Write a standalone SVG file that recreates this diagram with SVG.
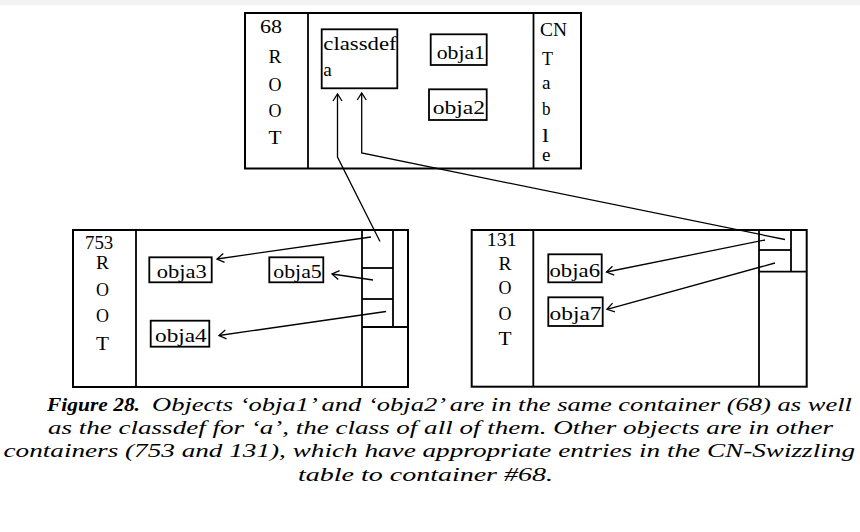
<svg xmlns="http://www.w3.org/2000/svg" width="860" height="532" viewBox="0 0 860 532">
  <style>
    .frame { fill: none; stroke: #000; stroke-width: 2; }
    .cell { fill: none; stroke: #000; stroke-width: 1.8; }
    .obj { fill: #fff; stroke: #000; stroke-width: 1.8; }
    .lbl { font-family: "Liberation Serif", "Times New Roman", serif; font-size: 19px; fill: #000; }
    .conn { fill: none; stroke: #000; stroke-width: 1.3; marker-end: url(#open); }
    .cap { font-family: "Liberation Serif", "Times New Roman", serif; font-size: 19px; font-style: italic; fill: #000; }
    .capb { font-weight: bold; }
  </style>
  <defs>
    <!-- open "V" arrowhead used by every pointer -->
    <marker id="open" viewBox="-9 -6 11 12" refX="0" refY="0" markerWidth="11" markerHeight="12" markerUnits="userSpaceOnUse" orient="auto">
      <path d="M-7,-4.5 L0,0 L-7,4.5" fill="none" stroke="#000" stroke-width="1.3"/>
    </marker>
  </defs>

  <rect x="0" y="0" width="860" height="532" fill="#fff"/>
  <rect x="0" y="0" width="860" height="5" fill="#f3f3f3"/>

  <!-- container 68: ROOT column, object area, CN table column -->
  <g id="container-68">
    <rect class="frame" x="245" y="13" width="336" height="155.5"/>
    <line class="cell" x1="308" y1="13" x2="308" y2="168.5"/>
    <line class="cell" x1="533.5" y1="13" x2="533.5" y2="168.5"/>
    <text class="lbl" x="260" y="33" textLength="22" lengthAdjust="spacingAndGlyphs">68</text>
    <text class="lbl" x="268.5" y="62.5" textLength="13" lengthAdjust="spacingAndGlyphs">R</text>
    <text class="lbl" x="268.5" y="90.5" textLength="13" lengthAdjust="spacingAndGlyphs">O</text>
    <text class="lbl" x="268.5" y="117" textLength="13" lengthAdjust="spacingAndGlyphs">O</text>
    <text class="lbl" x="268.5" y="143.5" textLength="13" lengthAdjust="spacingAndGlyphs">T</text>
    <text class="lbl" x="540" y="36" textLength="27" lengthAdjust="spacingAndGlyphs">CN</text>
    <text class="lbl" x="542" y="65" textLength="11" lengthAdjust="spacingAndGlyphs">T</text>
    <text class="lbl" x="542" y="89" textLength="8.5" lengthAdjust="spacingAndGlyphs">a</text>
    <text class="lbl" x="542" y="115" textLength="8.5" lengthAdjust="spacingAndGlyphs">b</text>
    <text class="lbl" x="542" y="142" textLength="7" lengthAdjust="spacingAndGlyphs">l</text>
    <text class="lbl" x="542" y="160.5" textLength="8.5" lengthAdjust="spacingAndGlyphs">e</text>
  </g>
  <g id="classdef-a">
    <rect class="obj" x="321.7" y="29.3" width="75.6" height="59"/>
    <text class="lbl" x="323.3" y="49.5" textLength="73.4" lengthAdjust="spacingAndGlyphs">classdef</text>
    <text class="lbl" x="323.3" y="76" textLength="8.5" lengthAdjust="spacingAndGlyphs">a</text>
  </g>
  <g id="obja1">
    <rect class="obj" x="430.7" y="34.3" width="56" height="30.7"/>
    <text class="lbl" x="436.7" y="59.3" textLength="48.3" lengthAdjust="spacingAndGlyphs">obja1</text>
  </g>
  <g id="obja2">
    <rect class="obj" x="429" y="89.3" width="57.7" height="30.7"/>
    <text class="lbl" x="432.7" y="113.5" textLength="52.3" lengthAdjust="spacingAndGlyphs">obja2</text>
  </g>

  <!-- container 753 -->
  <g id="container-753">
    <rect class="frame" x="73" y="230" width="335" height="157"/>
    <line class="cell" x1="136" y1="230" x2="136" y2="387"/>
    <line class="cell" x1="362" y1="230" x2="362" y2="387"/>
    <line class="cell" x1="393" y1="230" x2="393" y2="327"/>
    <line class="cell" x1="362" y1="268" x2="393" y2="268"/>
    <line class="cell" x1="362" y1="299" x2="393" y2="299"/>
    <line class="cell" x1="362" y1="327" x2="408" y2="327"/>
    <text class="lbl" x="85" y="249" textLength="28.3" lengthAdjust="spacingAndGlyphs">753</text>
    <text class="lbl" x="96" y="268.5" textLength="13" lengthAdjust="spacingAndGlyphs">R</text>
    <text class="lbl" x="96" y="296" textLength="13" lengthAdjust="spacingAndGlyphs">O</text>
    <text class="lbl" x="96" y="322" textLength="13" lengthAdjust="spacingAndGlyphs">O</text>
    <text class="lbl" x="96" y="349.5" textLength="13" lengthAdjust="spacingAndGlyphs">T</text>
  </g>
  <g id="obja3">
    <rect class="obj" x="149.3" y="257.3" width="62.4" height="25"/>
    <text class="lbl" x="156.7" y="278.3" textLength="50" lengthAdjust="spacingAndGlyphs">obja3</text>
  </g>
  <g id="obja5">
    <rect class="obj" x="269.3" y="257.3" width="54" height="25"/>
    <text class="lbl" x="273.3" y="278.3" textLength="48.4" lengthAdjust="spacingAndGlyphs">obja5</text>
  </g>
  <g id="obja4">
    <rect class="obj" x="150.7" y="320.7" width="58.6" height="26"/>
    <text class="lbl" x="155" y="341.7" textLength="51.7" lengthAdjust="spacingAndGlyphs">obja4</text>
  </g>

  <!-- container 131 -->
  <g id="container-131">
    <rect class="frame" x="471.7" y="230" width="335" height="156.7"/>
    <line class="cell" x1="533.3" y1="230" x2="533.3" y2="386.7"/>
    <line class="cell" x1="759" y1="230" x2="759" y2="386.7"/>
    <line class="cell" x1="791" y1="230" x2="791" y2="271.7"/>
    <line class="cell" x1="759" y1="250" x2="791" y2="250"/>
    <line class="cell" x1="759" y1="271.7" x2="806.7" y2="271.7"/>
    <text class="lbl" x="486.7" y="246" textLength="30" lengthAdjust="spacingAndGlyphs">131</text>
    <text class="lbl" x="498.5" y="270" textLength="13" lengthAdjust="spacingAndGlyphs">R</text>
    <text class="lbl" x="498.5" y="294" textLength="13" lengthAdjust="spacingAndGlyphs">O</text>
    <text class="lbl" x="498.5" y="320" textLength="13" lengthAdjust="spacingAndGlyphs">O</text>
    <text class="lbl" x="498.5" y="345" textLength="13" lengthAdjust="spacingAndGlyphs">T</text>
  </g>
  <g id="obja6">
    <rect class="obj" x="548.3" y="254.3" width="53.4" height="28"/>
    <text class="lbl" x="549.5" y="276.7" textLength="50.5" lengthAdjust="spacingAndGlyphs">obja6</text>
  </g>
  <g id="obja7">
    <rect class="obj" x="548.3" y="297.3" width="54.4" height="28.7"/>
    <text class="lbl" x="549.5" y="320" textLength="52" lengthAdjust="spacingAndGlyphs">obja7</text>
  </g>

  <!-- CN table entries pointing at their targets -->
  <g id="connectors">
    <polyline class="conn" points="380,241.5 337.5,157 337.5,94"/>
    <polyline class="conn" points="785,239.5 361.7,153 361.7,93"/>
    <line class="conn" x1="371" y1="237" x2="217" y2="259"/>
    <line class="conn" x1="373" y1="280" x2="332" y2="274"/>
    <line class="conn" x1="386" y1="311.5" x2="219" y2="335.5"/>
    <line class="conn" x1="765" y1="240" x2="606.5" y2="272"/>
    <line class="conn" x1="775" y1="263" x2="607" y2="309.3"/>
  </g>

  <!-- caption -->
  <g id="caption">
    <text class="cap capb" x="47" y="410.5" textLength="93" lengthAdjust="spacingAndGlyphs">Figure 28.</text>
    <text class="cap" x="152" y="410.5" textLength="700" lengthAdjust="spacingAndGlyphs">Objects ‘obja1’ and ‘obja2’ are in the same container (68) as well</text>
    <text class="cap" x="48" y="433.5" textLength="785" lengthAdjust="spacingAndGlyphs">as the classdef for ‘a’, the class of all of them. Other objects are in other</text>
    <text class="cap" x="3.5" y="457" textLength="851.5" lengthAdjust="spacingAndGlyphs">containers (753 and 131), which have appropriate entries in the CN-Swizzling</text>
    <text class="cap" x="298" y="480.5" textLength="255" lengthAdjust="spacingAndGlyphs">table to container #68.</text>
  </g>
</svg>
